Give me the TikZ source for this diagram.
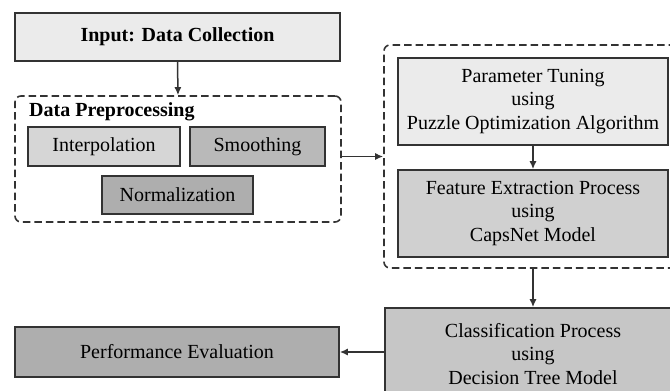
\documentclass[tikz,border=0pt]{standalone}
\usepackage{fontspec}
\setmainfont{Liberation Serif}
\usetikzlibrary{arrows.meta}
\definecolor{edge}{HTML}{333333}
\definecolor{fa}{HTML}{EBEBEB}
\definecolor{fb}{HTML}{D6D6D6}
\definecolor{fc}{HTML}{B9B9B9}
\definecolor{fd}{HTML}{AEAEAE}
\definecolor{fe}{HTML}{D0D0D0}
\definecolor{ff}{HTML}{C6C6C6}
\tikzset{
  box/.style={draw=edge, line width=1.6pt, inner sep=0pt, align=center,
    font=\fontsize{20}{23.5}\selectfont, text=black},
  group/.style={draw=edge, line width=1.6pt, dash pattern=on 7.5pt off 4pt, rounded corners=6pt, inner sep=0pt},
  conn/.style={draw=edge, line width=1.5pt, -{Latex[length=8pt,width=7pt]}},
}
\begin{document}
\begin{tikzpicture}[x=1pt,y=-1pt]
\useasboundingbox (0,0) rectangle (670,391);
\clip (0,0) rectangle (670,391);
\fill[white] (0,0) rectangle (670,391);
% Input
\node[box, fill=fa, minimum width=325pt, minimum height=48pt, font=\fontsize{20}{23.5}\selectfont\bfseries] (input) at (177.5,37) {Input: Data Collection};
% Data preprocessing group
\node[group, minimum width=326pt, minimum height=126pt] (prep) at (178,159) {};
\node[anchor=west, inner sep=0pt, font=\fontsize{20}{23.5}\selectfont\bfseries] (preptitle) at (29,112) {Data Preprocessing};
\node[box, fill=fb, minimum width=152pt, minimum height=39pt] (interp) at (104,146.5) {Interpolation};
\node[box, fill=fc, minimum width=135pt, minimum height=39pt] (smooth) at (257.5,146.5) {Smoothing};
\node[box, fill=fd, minimum width=151pt, minimum height=38pt] (norm) at (177.5,195) {Normalization};
% Right group
\node[group, minimum width=298pt, minimum height=223pt] (right) at (533,156.5) {};
\node[box, fill=fa, minimum width=270pt, minimum height=87pt] (param) at (533,101.5) {Parameter Tuning\\using\\Puzzle Optimization Algorithm};
\node[box, fill=fe, minimum width=270pt, minimum height=87pt] (feat) at (533,213.5) {Feature Extraction Process\\using\\CapsNet Model};
% Classification
\node[box, fill=ff, minimum width=296pt, minimum height=92pt] (class) at (533,354) {Classification Process\\using\\Decision Tree Model};
% Performance
\node[box, fill=fd, minimum width=324pt, minimum height=50pt] (perf) at (177,352) {Performance Evaluation};
% Connectors
\draw[conn] (input.south) -- (prep.north);
\draw[conn] (right.west -| prep.east) -- (right.west);
\draw[conn] (param.south) -- (feat.north);
\draw[conn] (right.south) -- (class.north);
\draw[conn] (perf.east -| class.west) -- (perf.east);
\end{tikzpicture}
\end{document}
